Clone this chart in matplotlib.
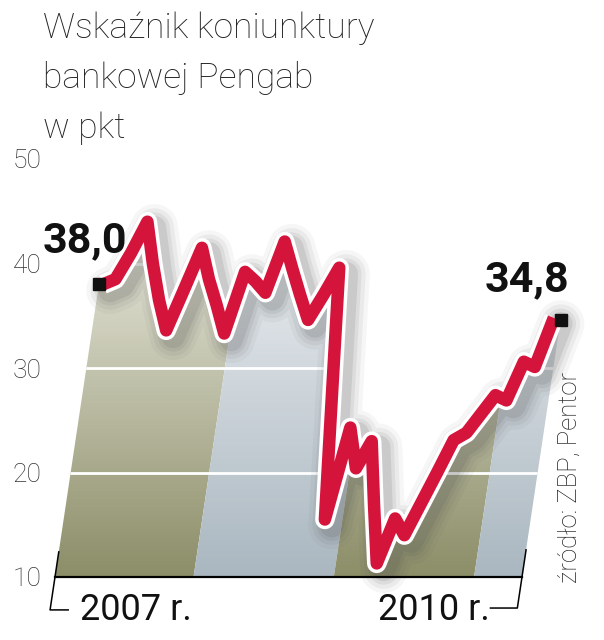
"""
Pengab banking sentiment index, 2007-2010, drawn as a slanted (sheared) area chart.
"""
import numpy as np
import matplotlib
matplotlib.use('Agg')
import matplotlib.pyplot as plt
import matplotlib.patheffects as pe
from matplotlib.colors import LinearSegmentedColormap
from matplotlib.patches import PathPatch
from matplotlib.path import Path
from matplotlib.transforms import Affine2D, offset_copy

# monthly values, Jan 2007 - Apr 2010
months = np.arange(40)
values = [38.0, 38.5, 41.0, 44.0, 40.0, 36.5, 33.6, 37.5, 41.5, 38.5,
          36.0, 33.3, 39.2, 38.3, 37.2, 42.1, 39.5, 37.0, 34.6, 37.0,
          39.6, 27.5, 15.5, 24.3, 20.4, 23.0, 17.0, 11.3, 15.6, 14.0,
          17.0, 20.0, 23.1, 23.8, 25.6, 27.4, 26.9, 30.6, 30.1, 34.8]
years = [2007, 2008, 2009, 2010]
yticks = [10, 20, 30, 40, 50]
first_label = '38,0'
last_label = '34,8'

plt.rcParams['font.family'] = ['Roboto', 'DejaVu Sans']

RED = '#d5143c'
OLIVE = ('#8c8e68', '#f2f2ea')
GREY = ('#aab7c0', '#f3f5f7')

W, H = 604, 640
fig = plt.figure(figsize=(W / 100, H / 100), dpi=100)
# plot box: baseline from x=55 to x=522 px, value 10 at y=577 px, 50 at y=159 px
ax = fig.add_axes([55 / W, (H - 577) / H, (522 - 55) / W, (577 - 159) / H])
x_lo, x_hi = -0.35, 39.6

# horizontal shear: higher values lean to the right
c = 0.134
shear = Affine2D(np.array([[1, c, -10 * c], [0, 1, 0], [0, 0, 1]])) + ax.transData


def area_path(x0, x1):
    """Polygon under the line between x0 and x1 (unsheared data coords)."""
    inner = (months > x0) & (months < x1)
    xs = np.concatenate([[x0], months[inner], [x1]])
    ys = np.interp(xs, months, values)
    verts = [(x0, 10)] + list(zip(xs, ys)) + [(x1, 10), (x0, 10)]
    return Path(verts, closed=True)


# year bands with vertical gradients
grad = np.linspace(0, 1, 256).reshape(-1, 1)
edges = [x_lo] + [12 * k - 0.5 for k in range(1, len(years))] + [x_hi]
for k, yr in enumerate(years):
    x0, x1 = edges[k], edges[k + 1]
    dark, light = OLIVE if k % 2 == 0 else GREY
    cmap = LinearSegmentedColormap.from_list(f'band{yr}', [dark, light])
    im = ax.imshow(grad, cmap=cmap, extent=(x0 - 6, x1 + 6, 10, 47),
                   origin='lower', aspect='auto', interpolation='bilinear', zorder=1)
    patch = PathPatch(area_path(x0, x1), transform=shear, facecolor='none',
                      edgecolor='none')
    ax.add_patch(patch)
    im.set_clip_path(patch)
    im.set_clip_box(fig.bbox)

# white gridlines inside the area
full = PathPatch(area_path(x_lo, x_hi), transform=shear, facecolor='none', edgecolor='none')
ax.add_patch(full)
for v in yticks[1:-1]:
    gl, = ax.plot([x_lo - 5, x_hi + 5], [v, v], color='white', lw=2.0,
                  transform=ax.transData, zorder=2)
    gl.set_clip_path(full)
    gl.set_clip_box(fig.bbox)

# soft shadow of the line
for lw, a in [(34, 0.05), (28, 0.07), (22, 0.09), (17, 0.12)]:
    sh = offset_copy(shear, fig=fig, x=7, y=-6, units='dots')
    ax.plot(months, values, color='#505050', lw=lw, alpha=a, transform=sh,
            solid_joinstyle='round', solid_capstyle='round', clip_on=False, zorder=3)

# main line with white outline
ax.plot(months, values, color=RED, lw=9.0, transform=shear, clip_on=False,
        solid_joinstyle='round', solid_capstyle='butt', zorder=4,
        path_effects=[pe.Stroke(linewidth=14, foreground='white',
                                joinstyle='round', capstyle='butt'), pe.Normal()])

# end markers
ax.plot(months[0], values[0], 's', color='#111111', ms=9, clip_on=False, zorder=5,
        transform=offset_copy(shear, fig=fig, x=-4, y=0, units='dots'))
ax.plot(months[-1], values[-1], 's', color='#111111', ms=9, clip_on=False, zorder=5,
        transform=offset_copy(shear, fig=fig, x=7, y=-2, units='dots'))

ax.set_xlim(x_lo, x_hi)
ax.set_ylim(10, 50)
ax.set_xticks([])
ax.set_yticks(yticks)
ax.tick_params(axis='y', length=0, pad=9.5, labelsize=19, labelcolor='#333333')
for lab in ax.get_yticklabels():
    lab.set_fontweight('light')
for s in ['top', 'left', 'right']:
    ax.spines[s].set_visible(False)
ax.spines['bottom'].set_color('black')
ax.spines['bottom'].set_linewidth(1.6)
ax.spines['bottom'].set_zorder(6)
ax.patch.set_visible(False)

# corner brackets at both ends of the time axis
ax.plot([x_lo, x_lo, x_lo + 1.55], [12.4, 6.85, 6.85], color='black', lw=1.1,
        transform=shear, clip_on=False)
ax.plot([x_hi - 2.3, x_hi, x_hi], [7.03, 7.03, 12.6], color='black', lw=1.1,
        transform=shear, clip_on=False)

# texts
title = ['Wskaźnik koniunktury', 'bankowej Pengab', 'w pkt']
for k, line in enumerate(title):
    fig.text(43 / W, 1 - (38 + 50 * k) / H, line, fontsize=25.5, fontweight='light',
             color='#222222', va='baseline', ha='left')

fig.text(43 / W, 1 - 252 / H, first_label, fontsize=31, fontweight='bold',
         color='#111111', va='baseline', ha='left')
fig.text(485 / W, 1 - 291 / H, last_label, fontsize=31, fontweight='bold',
         color='#111111', va='baseline', ha='left')

fig.text(80 / W, 1 - 620 / H, f'{years[0]} r.', fontsize=26, color='#111111',
         va='baseline', ha='left')
fig.text(378 / W, 1 - 620 / H, f'{years[-1]} r.', fontsize=26, color='#111111',
         va='baseline', ha='left')

fig.text(570 / W, 1 - 583 / H, 'źródło: ZBP, Pentor', fontsize=18.5, fontweight='light',
         color='#222222', rotation=90, ha='center', va='bottom')

fig.savefig('out.png', dpi=100)
